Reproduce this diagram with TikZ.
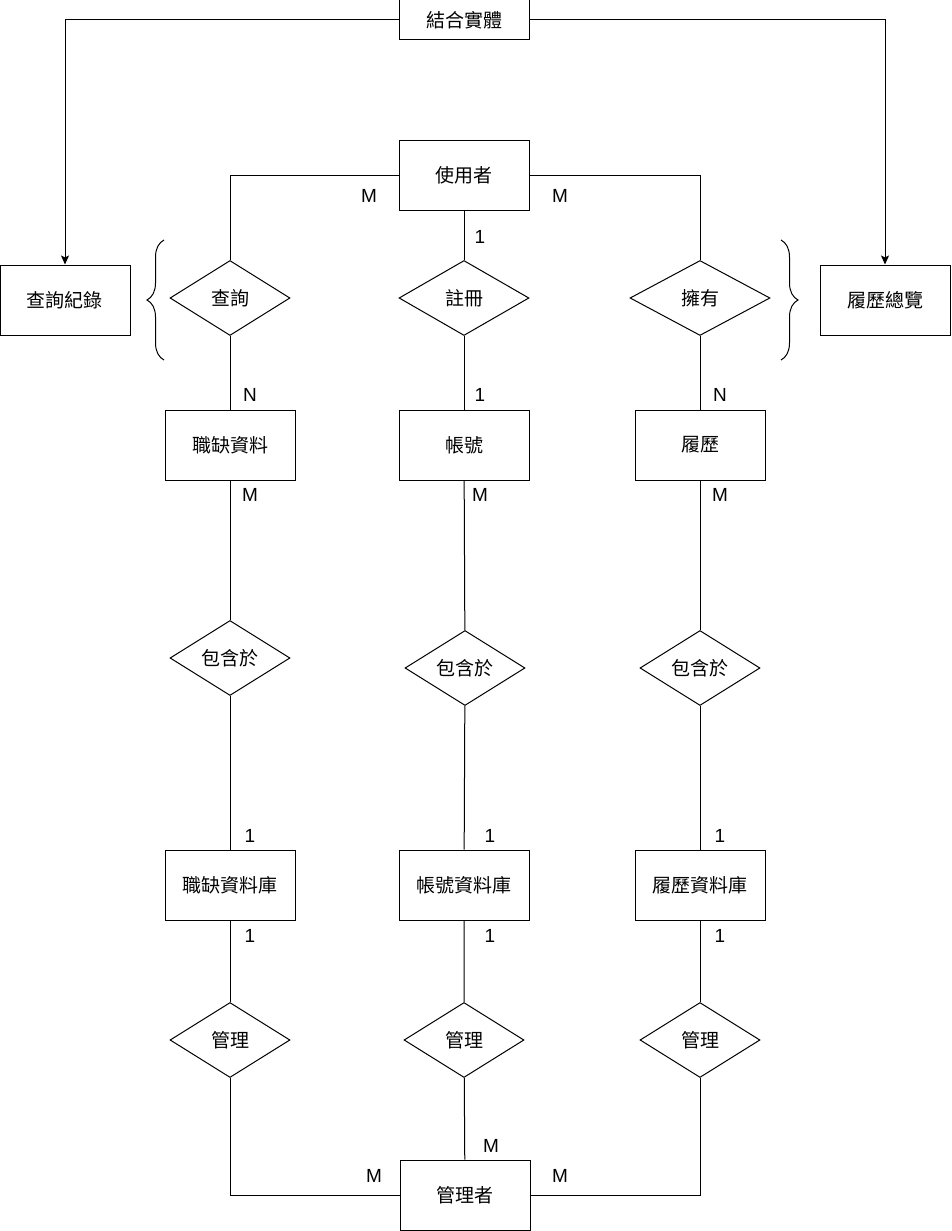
\documentclass[tikz,border=0pt]{standalone}
\usepackage{fontspec}
\setmainfont{Liberation Sans}
\newfontfamily\cjk{Noto Sans CJK TC}
\usetikzlibrary{shapes.geometric,decorations.pathreplacing,arrows.meta}

\begin{document}
\begin{tikzpicture}[x=1pt,y=-1pt,line width=1pt,>={Stealth[length=9pt,width=8pt,inset=2pt]},
  ent/.style={draw,minimum width=130pt,minimum height=70pt,inner sep=0pt,font=\cjk\fontsize{19}{19}\selectfont},
  rel/.style={draw,diamond,minimum width=120pt,minimum height=75pt,inner sep=0pt,font=\cjk\fontsize{19}{19}\selectfont},
  card/.style={font=\fontsize{19}{19}\selectfont},
  bracket/.style={decorate,decoration={brace,amplitude=17pt}}]
  \useasboundingbox (0,0) rectangle (952,1231);
  % entities
  \node[ent,minimum height=40pt] (join) at (464,20) {結合實體};
  \node[ent] (user) at (464,175) {使用者};
  \node[ent] (rec) at (65,300) {查詢紀錄};
  \node[ent] (view) at (885,300) {履歷總覽};
  \node[ent] (job) at (230,445) {職缺資料};
  \node[ent] (acct) at (464,445) {帳號};
  \node[ent] (cv) at (700,445) {履歷};
  \node[ent] (jobdb) at (230,885) {職缺資料庫};
  \node[ent] (acctdb) at (464,885) {帳號資料庫};
  \node[ent] (cvdb) at (700,885) {履歷資料庫};
  \node[ent] (admin) at (465,1195) {管理者};
  % relations
  \node[rel] (query) at (230,298) {查詢};
  \node[rel,minimum width=130pt] (reg) at (464,298) {註冊};
  \node[rel,minimum width=140pt] (own) at (700,298) {擁有};
  \node[rel] (in1) at (230,658) {包含於};
  \node[rel] (in2) at (465,668) {包含於};
  \node[rel] (in3) at (700,668) {包含於};
  \node[rel] (mg1) at (230,1040) {管理};
  \node[rel] (mg2) at (464,1040) {管理};
  \node[rel] (mg3) at (700,1040) {管理};
  % connectors
  \draw[->] (join.west) -| (rec.north);
  \draw[->] (join.east) -| (view.north);
  \draw (user.west) -| (query.north);
  \draw (user.east) -| (own.north);
  \draw (user) -- (reg);
  \draw (query) -- (job);
  \draw (reg) -- (acct);
  \draw (own) -- (cv);
  \draw (job) -- (in1) -- (jobdb) -- (mg1);
  \draw (acct) -- (in2) -- (acctdb) -- (mg2) -- (admin);
  \draw (cv) -- (in3) -- (cvdb) -- (mg3);
  \draw (mg1.south) |- (admin.west);
  \draw (mg3.south) |- (admin.east);
  % braces
  \coordinate (lb1) at (164,360);
  \coordinate (lb2) at (164,240);
  \coordinate (rb1) at (781,240);
  \coordinate (rb2) at (781,360);
  \draw[bracket] (lb1) -- (lb2);
  \draw[bracket] (rb1) -- (rb2);
  % cardinalities
  \foreach \x/\y/\t [count=\i] in {369/196/M,560/196/M,480/237/1,
      250/395/N,480/395/1,720/395/N,250/495/M,480/495/M,720/495/M,
      250/836/1,490/836/1,720/836/1,250/936/1,490/936/1,720/936/1,
      491/1146/M,374/1176/M,560/1176/M}
    \node[card] (c\i) at (\x,\y) {\t};
\end{tikzpicture}
\end{document}
